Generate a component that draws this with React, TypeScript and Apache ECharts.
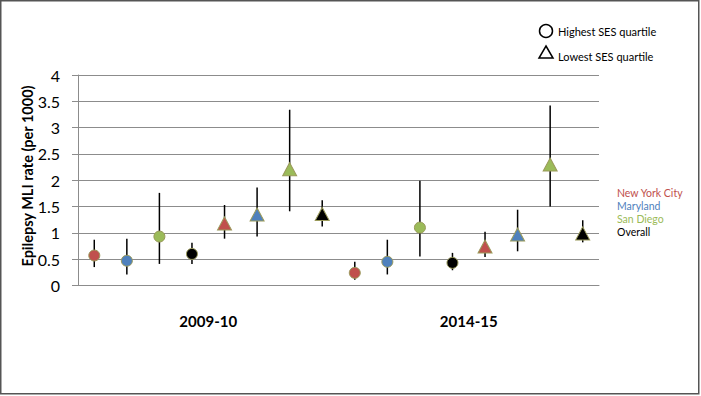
import React, { useEffect, useRef } from "react";
import * as echarts from "echarts";

const periods = ["2009-10", "2014-15"];
const groups = ["Highest SES quartile", "Lowest SES quartile"];
const regions = ["New York City", "Maryland", "San Diego", "Overall"];
const regionColors = ["#C0504D", "#4F81BD", "#9BBB59", "#000000"];

// Highest SES quartile, 2009-10
const high0910 = [0.57, 0.47, 0.93, 0.6];
const high0910Lo = [0.35, 0.21, 0.41, 0.41];
const high0910Hi = [0.87, 0.89, 1.76, 0.81];
// Lowest SES quartile, 2009-10
const low0910 = [1.18, 1.35, 2.21, 1.36];
const low0910Lo = [0.89, 0.93, 1.41, 1.12];
const low0910Hi = [1.53, 1.86, 3.34, 1.62];
// Highest SES quartile, 2014-15
const high1415 = [0.24, 0.45, 1.1, 0.43];
const high1415Lo = [0.11, 0.21, 0.55, 0.29];
const high1415Hi = [0.45, 0.87, 1.99, 0.62];
// Lowest SES quartile, 2014-15
const low1415 = [0.74, 0.97, 2.3, 0.99];
const low1415Lo = [0.54, 0.65, 1.5, 0.82];
const low1415Hi = [1.02, 1.44, 3.42, 1.24];

const yMin = 0;
const yMax = 4;
const yInterval = 0.5;

const blocks = [
  { period: 0, group: 0, v: high0910, lo: high0910Lo, hi: high0910Hi },
  { period: 0, group: 1, v: low0910, lo: low0910Lo, hi: low0910Hi },
  { period: 1, group: 0, v: high1415, lo: high1415Lo, hi: high1415Hi },
  { period: 1, group: 1, v: low1415, lo: low1415Lo, hi: low1415Hi },
];

export default function App() {
  const ref = useRef<HTMLDivElement>(null);
  useEffect(() => {
    document.body.style.margin = "0";
    if (!ref.current) return;
    const chart = echarts.init(ref.current, undefined, { renderer: "svg" });

    const slots: string[] = [];
    const circleData: any[] = [];
    const triData: any[] = [];
    const errData: any[] = [];
    blocks.forEach((b) => {
      regions.forEach((r, i) => {
        const idx = slots.length;
        slots.push(periods[b.period] + " " + groups[b.group] + " " + r);
        const item = {
          value: [idx, b.v[i]],
          itemStyle: { color: regionColors[i] },
        };
        (b.group === 0 ? circleData : triData).push(item);
        errData.push([idx, b.lo[i], b.hi[i]]);
      });
    });

    const font = "Lato, 'Open Sans', sans-serif";

    chart.setOption({
      animation: false,
      backgroundColor: "#ffffff",
      grid: { left: 78, right: 102, top: 75, bottom: 110.5 },
      xAxis: [
        {
          type: "category",
          data: slots,
          axisLine: { show: true, lineStyle: { color: "#8c8c8c", width: 1 } },
          axisTick: { show: false },
          axisLabel: { show: false },
          splitLine: { show: false },
        },
        {
          type: "category",
          data: periods,
          position: "bottom",
          axisLine: { show: false },
          axisTick: { show: false },
          splitLine: { show: false },
          axisLabel: {
            margin: 28,
            fontFamily: font,
            fontSize: 15,
            fontWeight: "bold",
            color: "#000",
          },
        },
      ],
      yAxis: {
        type: "value",
        min: yMin,
        max: yMax,
        interval: yInterval,
        axisLine: { show: true, lineStyle: { color: "#8c8c8c", width: 1 } },
        axisTick: { show: true, length: 6, lineStyle: { color: "#8c8c8c" } },
        axisLabel: {
          margin: 18,
          fontFamily: font,
          fontSize: 16,
          color: "#000",
        },
        splitLine: { show: true, lineStyle: { color: "#8c8c8c", width: 1 } },
      },
      series: [
        {
          type: "custom",
          name: "CI",
          xAxisIndex: 0,
          z: 1,
          encode: { x: 0, y: [1, 2] },
          data: errData,
          renderItem: (params: any, api: any) => {
            const x = api.value(0);
            const p1 = api.coord([x, api.value(1)]);
            const p2 = api.coord([x, api.value(2)]);
            return {
              type: "line",
              shape: { x1: p1[0], y1: p1[1], x2: p2[0], y2: p2[1] },
              style: { stroke: "#000", lineWidth: 1.5 },
            };
          },
        },
        {
          type: "scatter",
          name: groups[0],
          xAxisIndex: 0,
          z: 3,
          symbol: "circle",
          symbolSize: 11,
          itemStyle: { borderColor: "#9a9a5a", borderWidth: 1, opacity: 1 },
          data: circleData,
        },
        {
          type: "scatter",
          name: groups[1],
          xAxisIndex: 0,
          z: 3,
          symbol: "triangle",
          symbolSize: [14, 13],
          itemStyle: { borderColor: "#9a9a5a", borderWidth: 1, opacity: 1 },
          data: triData,
        },
      ],
      graphic: [
        {
          type: "rect",
          shape: { x: 0.75, y: 0.75, width: 698, height: 393 },
          style: { fill: "none", stroke: "#555", lineWidth: 1.5 },
          silent: true,
        },
        {
          type: "text",
          x: 27,
          y: 176,
          rotation: Math.PI / 2,
          style: {
            text: "Epilepsy MLI rate (per 1000)",
            fontFamily: font,
            fontSize: 14.5,
            fontWeight: "bold",
            fill: "#000",
            align: "center",
            verticalAlign: "middle",
          },
        },
        {
          type: "circle",
          shape: { cx: 546, cy: 31, r: 6.5 },
          style: { fill: "#fff", stroke: "#000", lineWidth: 1.5 },
        },
        {
          type: "polygon",
          shape: { points: [[546, 46], [553, 58], [539, 58]] },
          style: { fill: "#fff", stroke: "#000", lineWidth: 1.5 },
        },
        {
          type: "text",
          x: 558,
          y: 31,
          style: {
            text: groups[0],
            fontFamily: font,
            fontSize: 11,
            fill: "#000",
            verticalAlign: "middle",
          },
        },
        {
          type: "text",
          x: 558,
          y: 56,
          style: {
            text: groups[1],
            fontFamily: font,
            fontSize: 11,
            fill: "#000",
            verticalAlign: "middle",
          },
        },
        ...regions.map((r, i) => ({
          type: "text",
          x: 617,
          y: 193 + i * 13,
          style: {
            text: r,
            fontFamily: font,
            fontSize: 10.5,
            fill: regionColors[i],
            verticalAlign: "middle",
          },
        })),
      ],
    });
    return () => chart.dispose();
  }, []);
  return <div ref={ref} style={{ width: 701, height: 396 }} />;
}
